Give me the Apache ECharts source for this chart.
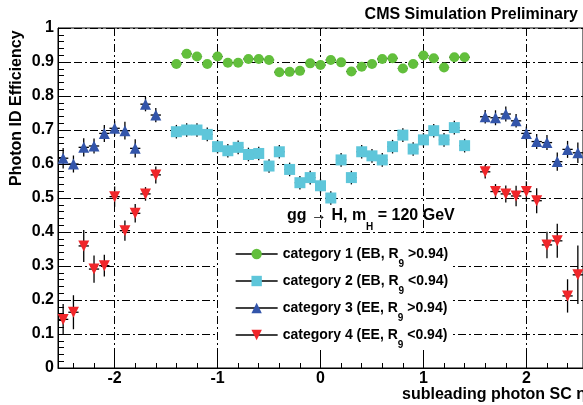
<!DOCTYPE html>
<html><head><meta charset="utf-8">
<script src="https://cdn.jsdelivr.net/npm/echarts@6/dist/echarts.min.js"></script>
<style>html,body{margin:0;padding:0;background:#fff}#c{width:583px;height:405px}</style>
</head><body><div id="c"></div>
<script>
// ---- data ----
const etaEB = [-1.4,-1.3,-1.2,-1.1,-1.0,-0.9,-0.8,-0.7,-0.6,-0.5,-0.4,-0.3,-0.2,-0.1,0.0,0.1,0.2,0.3,0.4,0.5,0.6,0.7,0.8,0.9,1.0,1.1,1.2,1.3,1.4];
const etaEE = [-2.5,-2.4,-2.3,-2.2,-2.1,-2.0,-1.9,-1.8,-1.7,-1.6,1.6,1.7,1.8,1.9,2.0,2.1,2.2,2.3,2.4,2.5];
const cat1 = [0.894,0.924,0.916,0.894,0.916,0.898,0.898,0.909,0.909,0.906,0.870,0.871,0.874,0.896,0.891,0.906,0.899,0.872,0.886,0.894,0.909,0.911,0.881,0.894,0.919,0.911,0.884,0.914,0.914];
const cat1Err = [0.01,0.01,0.01,0.01,0.01,0.01,0.01,0.01,0.01,0.01,0.01,0.01,0.01,0.01,0.01,0.01,0.01,0.01,0.01,0.01,0.01,0.01,0.01,0.01,0.01,0.01,0.01,0.01,0.01];
const cat2 = [0.695,0.700,0.700,0.687,0.651,0.639,0.649,0.628,0.631,0.594,0.636,0.584,0.545,0.560,0.536,0.500,0.612,0.560,0.636,0.624,0.612,0.651,0.685,0.644,0.671,0.698,0.671,0.707,0.654];
const cat2Err = [0.02,0.02,0.02,0.02,0.02,0.02,0.02,0.02,0.02,0.02,0.02,0.02,0.02,0.02,0.02,0.02,0.02,0.02,0.02,0.02,0.02,0.02,0.02,0.02,0.02,0.02,0.02,0.02,0.02];
const cat3 = [0.617,0.600,0.649,0.653,0.690,0.705,0.698,0.646,0.776,0.744,0.739,0.736,0.747,0.727,0.690,0.666,0.663,0.607,0.643,0.633];
const cat3Err = [0.03,0.025,0.027,0.022,0.025,0.022,0.026,0.027,0.021,0.021,0.02,0.022,0.022,0.02,0.02,0.022,0.022,0.027,0.025,0.03];
const cat4 = [0.143,0.164,0.359,0.291,0.301,0.504,0.404,0.455,0.512,0.568,0.577,0.519,0.512,0.506,0.519,0.492,0.362,0.374,0.212,0.274];
const cat4Err = [0.045,0.05,0.047,0.04,0.032,0.03,0.03,0.027,0.02,0.025,0.02,0.022,0.025,0.03,0.03,0.037,0.039,0.05,0.049,0.086];
const seriesNames = ['category 1 (EB, R9 >0.94)','category 2 (EB, R9 <0.94)','category 3 (EE, R9 >0.94)','category 4 (EE, R9 <0.94)'];
const xMajorTicks = [-2,-1,0,1,2];
const xMinorTicks = [-2.4,-2.2,-1.8,-1.6,-1.4,-1.2,-0.8,-0.6,-0.4,-0.2,0.2,0.4,0.6,0.8,1.2,1.4,1.6,1.8,2.2,2.4];
const binHalfWidth = 0.05;

const FONT = "'Liberation Sans', Arial, Helvetica, sans-serif";
const colors = ['#62bf3c','#5ec6da','#3355aa','#f0262a'];
const symbols = ['circle','rect','triangle','triangle'];
const rotates = [0,0,0,180];
const sizes = [10,[11,11],11,11];
const xs = [etaEB, etaEB, etaEE, etaEE];
const ys = [cat1, cat2, cat3, cat4];
const es = [cat1Err, cat2Err, cat3Err, cat4Err];

const chart = echarts.init(document.getElementById('c'), null, {renderer:'canvas'});
const series = [];
for (let k = 0; k < 4; k++) {
  const triples = xs[k].map((x,i) => [x, ys[k][i], es[k][i]]);
  series.push({
    type:'custom', name:'err'+k, z:2, silent:true,
    encode:{x:0,y:1},
    data: triples,
    renderItem: (params, api) => {
      const x = api.value(0), y = api.value(1), e = api.value(2);
      const a = api.coord([x-binHalfWidth, y]), b = api.coord([x+binHalfWidth, y]);
      const c = api.coord([x, y-e]), d = api.coord([x, y+e]);
      const st = {stroke:'#000', lineWidth:1.3};
      return {type:'group', children:[
        {type:'line', shape:{x1:a[0],y1:a[1],x2:b[0],y2:b[1]}, style:st},
        {type:'line', shape:{x1:c[0],y1:c[1],x2:d[0],y2:d[1]}, style:st}
      ]};
    }
  });
}
for (let k = 0; k < 4; k++) {
  series.push({
    type:'line', name: seriesNames[k], z:3,
    data: xs[k].map((x,i) => [x, ys[k][i]]),
    symbol: symbols[k], symbolSize: sizes[k], symbolRotate: rotates[k],
    showSymbol:true, itemStyle:{color:colors[k], opacity:1},
    lineStyle:{opacity:0, width:0}, emphasis:{disabled:true}
  });
}

const lbl = {fontFamily:FONT, fontWeight:'bold', fontSize:16, color:'#000'};
const dashDot = [8,3,2,3];
chart.setOption({
  animation:false,
  backgroundColor:'#fff',
  grid:{left:58, top:28, width:525.4, height:340, show:true, borderColor:'#000', borderWidth:1, containLabel:false},
  xAxis:[{
    type:'value', min:-2.55, max:2.55, gridIndex:0, position:'bottom',
    axisLine:{show:true, onZero:false, lineStyle:{color:'#000', width:1}},
    axisTick:{show:true, inside:true, length:12, customValues:xMajorTicks, lineStyle:{color:'#000', width:1}},
    axisLabel:Object.assign({customValues:xMajorTicks, margin:3}, lbl),
    splitLine:{show:true, lineStyle:{color:'#000', width:1, type:dashDot}}
  },{
    type:'value', min:-2.55, max:2.55, gridIndex:0, position:'bottom',
    axisLine:{show:false},
    axisTick:{show:true, inside:true, length:5, customValues:xMinorTicks, lineStyle:{color:'#000', width:1}},
    axisLabel:{show:false}, splitLine:{show:false}
  }],
  yAxis:{
    type:'value', min:0, max:1, interval:0.1,
    axisLine:{show:true, onZero:false, lineStyle:{color:'#000', width:1}},
    axisTick:{show:true, inside:true, length:12, lineStyle:{color:'#000', width:1}},
    minorTick:{show:true, splitNumber:5, length:6, lineStyle:{color:'#000', width:1}},
    axisLabel:Object.assign({margin:4, formatter:v => String(Number(v.toFixed(1)))}, lbl),
    splitLine:{show:true, lineStyle:{color:'#000', width:1, type:dashDot}}
  },
  legend:{
    data:seriesNames, orient:'vertical', left:230, top:242, itemGap:5,
    itemWidth:42, itemHeight:13, selectedMode:false,
    lineStyle:{color:'#000', width:1.3, opacity:1, type:'solid'},
    formatter: n => {
      const m = n.split('R9');
      return '{a|' + m[0] + 'R}{s|9}{a|' + m[1] + '}';
    },
    textStyle:{
      rich:{
        a:{fontFamily:FONT, fontWeight:'bold', fontSize:14, color:'#000', lineHeight:30, verticalAlign:'middle'},
        s:{fontFamily:FONT, fontWeight:'bold', fontSize:10, color:'#000', lineHeight:10, verticalAlign:'bottom'}
      }
    }
  },
  graphic:[
    {type:'rect', z:1, silent:true, shape:{x:218, y:234, width:235, height:116}, style:{fill:'#fff'}},
    {type:'text', z:10, x:578, y:14.5, style:{text:'CMS Simulation Preliminary', align:'right', verticalAlign:'middle', font:"bold 16px " + FONT, fill:'#000'}},
    {type:'text', z:10, x:17, y:186, rotation:Math.PI/2, style:{text:'Photon ID Efficiency', align:'left', verticalAlign:'middle', font:"bold 16px " + FONT, fill:'#000'}},
    {type:'text', z:10, x:586, y:395, style:{text:'subleading photon SC η', align:'right', verticalAlign:'middle', font:"bold 16px " + FONT, fill:'#000'}},
    {type:'text', z:10, x:287, y:215.5, style:{
      text:'{a|gg → H, m}{s|H}{a| = 120 GeV}', align:'left', verticalAlign:'middle',
      rich:{
        a:{fontFamily:FONT, fontWeight:'bold', fontSize:16, fill:'#000', color:'#000', lineHeight:34, verticalAlign:'middle'},
        s:{fontFamily:FONT, fontWeight:'bold', fontSize:10, fill:'#000', color:'#000', lineHeight:10, verticalAlign:'bottom'}
      }}}
  ],
  series: series
});
</script></body></html>
